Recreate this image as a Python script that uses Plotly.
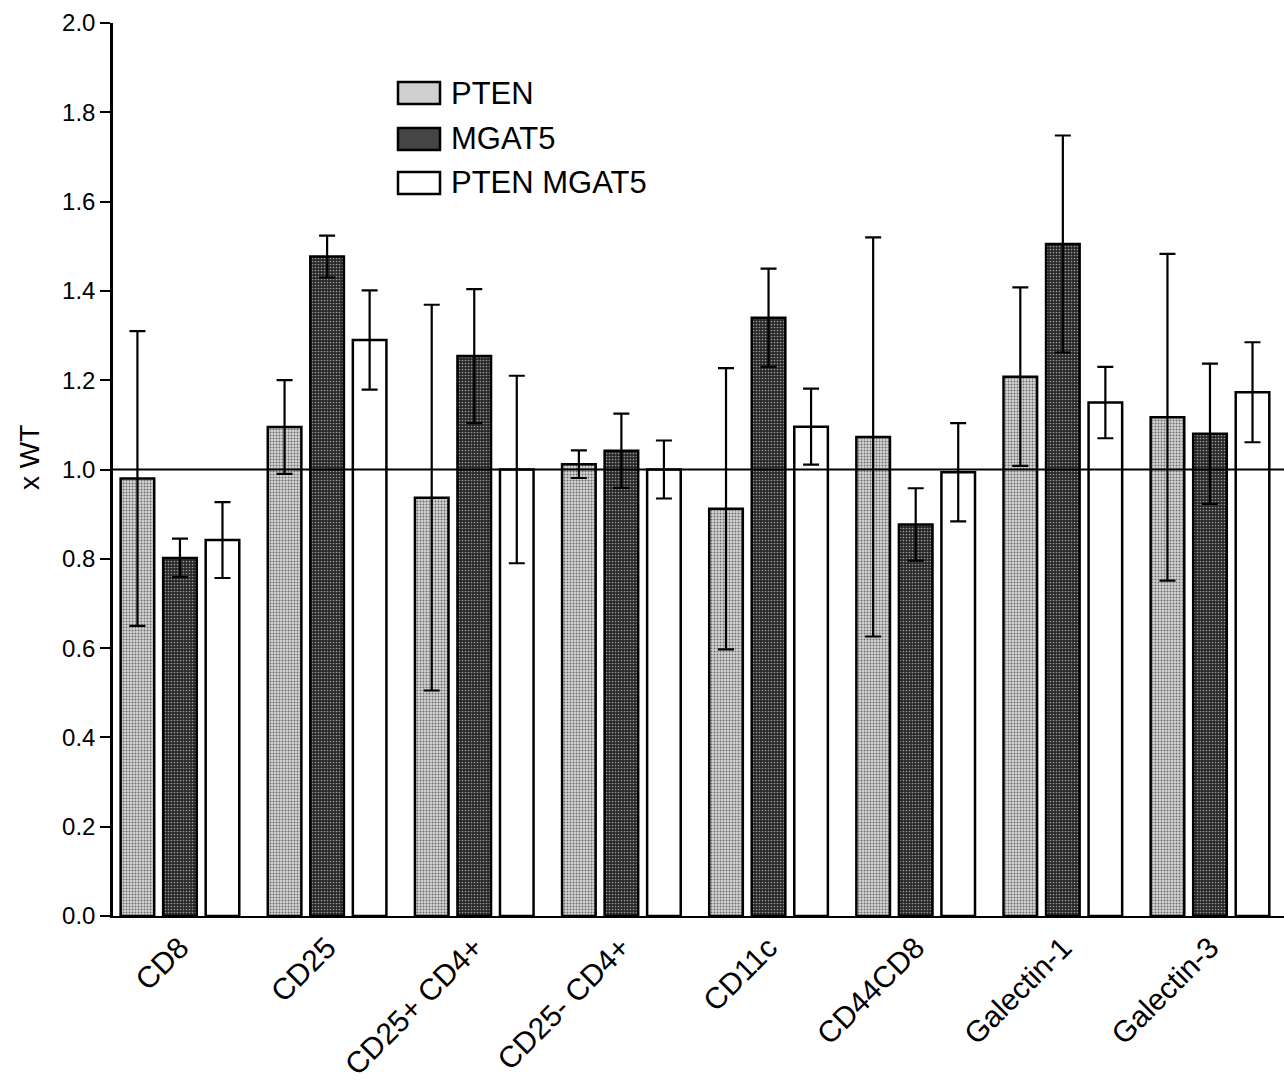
import plotly.graph_objects as go

categories = ["CD8", "CD25", "CD25+ CD4+", "CD25- CD4+", "CD11c", "CD44CD8", "Galectin-1", "Galectin-3"]
series_names = ["PTEN", "MGAT5", "PTEN MGAT5"]

pten = [0.98, 1.095, 0.937, 1.012, 0.912, 1.073, 1.208, 1.117]
pten_err = [0.33, 0.105, 0.432, 0.031, 0.315, 0.447, 0.20, 0.366]
mgat5 = [0.802, 1.477, 1.254, 1.042, 1.34, 0.877, 1.505, 1.08]
mgat5_err = [0.043, 0.047, 0.15, 0.083, 0.11, 0.081, 0.243, 0.157]
pten_mgat5 = [0.842, 1.29, 1.0, 1.0, 1.096, 0.994, 1.15, 1.173]
pten_mgat5_err = [0.085, 0.111, 0.21, 0.065, 0.085, 0.11, 0.08, 0.112]

y_ticks = [0.0, 0.2, 0.4, 0.6, 0.8, 1.0, 1.2, 1.4, 1.6, 1.8, 2.0]
reference_level = 1.0
y_title = "x WT"

# page body margin is removed (post_script), so figure pixels == screen pixels
W, H = 1284, 1080
ML, MR, MT, MB = 113, 0, 23, 164
PW, PH = W - ML - MR, H - MT - MB

styles = [
    dict(bg="#d6d6d6", fg="#6a6a6a", size=3, solidity=0.35, legend_fill="#cfcfcf"),
    dict(bg="#262626", fg="#9a9a9a", size=3, solidity=0.25, legend_fill="#454545"),
    dict(bg="#ffffff", fg="#ffffff", size=3, solidity=0.0, legend_fill="#ffffff"),
]
FONT = "Liberation Sans, Arial, Helvetica"

fig = go.Figure()
for name, vals, errs, st in zip(series_names, [pten, mgat5, pten_mgat5],
                                [pten_err, mgat5_err, pten_mgat5_err], styles):
    marker = dict(color=st["bg"], line=dict(color="black", width=2.5))
    if st["solidity"] > 0:
        marker["pattern"] = dict(shape=".", bgcolor=st["bg"], fgcolor=st["fg"], size=st["size"],
                                 solidity=st["solidity"], fillmode="replace")
    fig.add_trace(go.Bar(
        x=categories, y=vals, name=name, marker=marker, showlegend=False,
        error_y=dict(type="data", array=errs, visible=True, color="black",
                     thickness=2.2, width=8),
    ))

# reference line at 1.0
fig.add_shape(type="line", xref="paper", yref="y", x0=0, x1=1,
              y0=reference_level, y1=reference_level,
              line=dict(color="black", width=2))


def px_x(sx):
    return (sx - ML) / PW


def px_y(sy):
    return (MT + PH - sy) / PH


# manual legend
legend_rows_y = [93, 139, 183]
for name, st, sy in zip(series_names, styles, legend_rows_y):
    fig.add_shape(type="rect", xref="paper", yref="paper",
                  x0=px_x(398), x1=px_x(440), y0=px_y(sy + 11), y1=px_y(sy - 11),
                  fillcolor=st["legend_fill"], line=dict(color="black", width=2.5))
    fig.add_annotation(xref="paper", yref="paper", x=px_x(449), y=px_y(sy),
                       text=name, showarrow=False, xanchor="left", yanchor="middle",
                       font=dict(family=FONT, size=31, color="black"))

# y-axis title
fig.add_annotation(xref="paper", yref="paper", x=px_x(29), y=px_y(458),
                   text=y_title, textangle=-90, showarrow=False,
                   xanchor="center", yanchor="middle",
                   font=dict(family=FONT, size=28, color="black"))

fig.update_layout(
    width=W, height=H, autosize=False,
    margin=dict(l=ML, r=MR, t=MT, b=MB, pad=0, autoexpand=False),
    paper_bgcolor="white", plot_bgcolor="white",
    barmode="group", bargap=0.133, bargroupgap=0.21,
    showlegend=False,
    font=dict(family=FONT, color="black"),
)
fig.update_xaxes(
    range=[-0.455, 7.503], showgrid=False, zeroline=False, automargin=False,
    showline=True, linecolor="black", linewidth=2, ticks="",
    tickangle=-45, tickfont=dict(family=FONT, size=30, color="black"),
)
fig.update_yaxes(
    range=[0, 2.0], tickvals=y_ticks, ticktext=[f"{v:.1f}" for v in y_ticks],
    showgrid=False, zeroline=False, automargin=False,
    showline=True, linecolor="black", linewidth=2.5,
    ticks="outside", ticklen=10, tickwidth=2, tickcolor="black",
    tickfont=dict(family=FONT, size=24, color="black"),
)

fig.write_html(
    "out.html",
    config={"displayModeBar": False},
    post_script="document.body.style.margin='0';document.body.style.overflow='hidden';",
)
